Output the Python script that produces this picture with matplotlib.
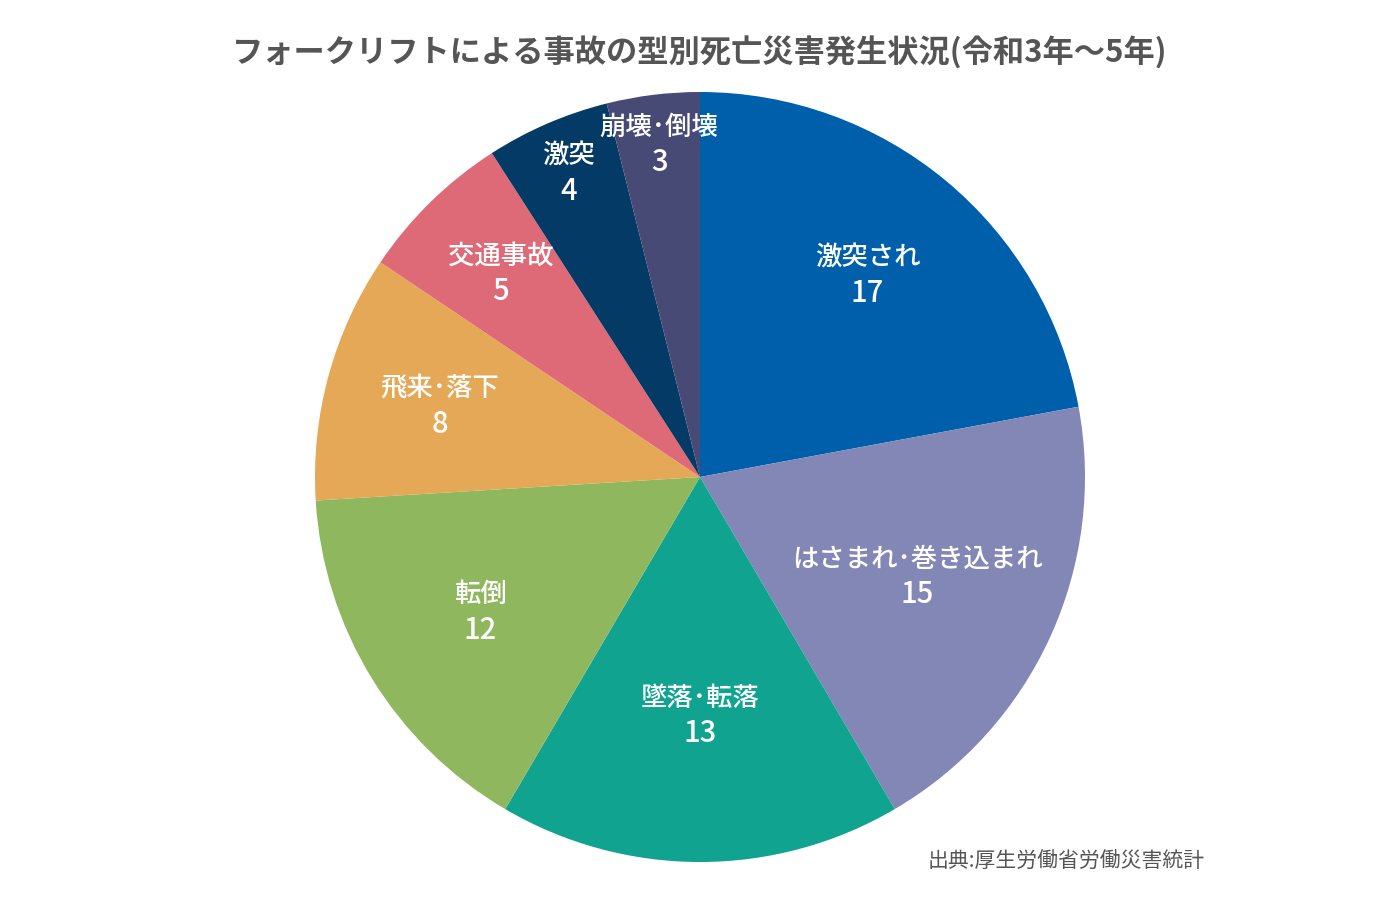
import numpy as np
import matplotlib
matplotlib.use('Agg')
import matplotlib.pyplot as plt

plt.rcParams['font.family'] = ['Noto Sans CJK JP', 'DejaVu Sans']

labels = ['激突され', 'はさまれ･巻き込まれ', '墜落･転落', '転倒',
          '飛来･落下', '交通事故', '激突', '崩壊･倒壊']
values = [17, 15, 13, 12, 8, 5, 4, 3]
colors = ['#005FAA', '#8387B5', '#0FA390', '#8FB75E',
          '#E4A856', '#DD6A76', '#043A66', '#474A75']
label_r = [0.68, 0.62, 0.62, 0.67, 0.70, 0.74, 0.86, 0.87]

fig = plt.figure(figsize=(14, 9), dpi=100)
R = 385
ax = fig.add_axes([(700 - R) / 1400, (900 - 477 - R) / 900, 2 * R / 1400, 2 * R / 900])

wedges, _ = ax.pie(values, colors=colors, startangle=90, counterclock=False,
                   radius=1.0, wedgeprops=dict(linewidth=0))
ax.set_xlim(-1, 1)
ax.set_ylim(-1, 1)
ax.set_aspect('equal')
ax.axis('off')

for w, lab, v, r in zip(wedges, labels, values, label_r):
    ang = np.deg2rad((w.theta1 + w.theta2) / 2)
    x, y = r * np.cos(ang), r * np.sin(ang)
    ax.annotate(lab, (x, y), xytext=(0, 12.5), textcoords='offset points',
                ha='center', va='center', color='white', fontsize=19,
                fontweight='medium')
    ax.annotate(str(v), (x, y), xytext=(0, -13), textcoords='offset points',
                ha='center', va='center', color='white', fontsize=21,
                fontweight='medium')

fig.text(0.5, 1 - 53 / 900, 'フォークリフトによる事故の型別死亡災害発生状況(令和3年～5年)',
         ha='center', va='center', fontsize=22.5, fontweight='bold', color='#555555')
fig.text(1205 / 1400, 1 - 862 / 900, '出典:厚生労働省労働災害統計',
         ha='right', va='center', fontsize=15, color='#555555')

fig.savefig('out.png', dpi=100)
